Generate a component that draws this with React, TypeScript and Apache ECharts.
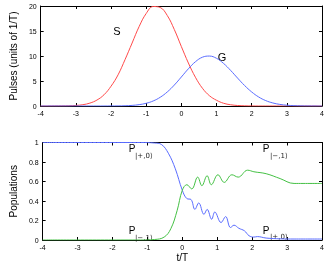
import React, { useEffect, useRef } from "react";
import * as echarts from "echarts";

// Top panel: pulse envelopes (units of 1/T)
const tTop = [
  -4, -3.8, -3.6, -3.4, -3.2, -3, -2.8, -2.6, -2.4, -2.2, -2, -1.8, -1.6, -1.4, -1.2, -1, -0.8, -0.6, -0.4, -0.2,
  0, 0.2, 0.4, 0.6, 0.8, 1, 1.2, 1.4, 1.6, 1.8, 2, 2.2, 2.4, 2.6, 2.8, 3, 3.2, 3.4, 3.6, 3.8, 4,
];
const pulseS = [
  0, 0, 0.01, 0.02, 0.04, 0.11, 0.26, 0.58, 1.19, 2.24, 3.95, 6.23, 9.3, 12.6, 15.9, 18.5, 19.9, 19.7, 18.1, 15.3,
  11.9, 8.6, 5.75, 3.55, 2.05, 1.15, 0.55, 0.25, 0.1, 0.04, 0.01, 0, 0, 0, 0, 0, 0, 0, 0, 0, 0,
];
const pulseG = [
  0, 0, 0, 0, 0, 0, 0, 0, 0, 0, 0.01, 0.02, 0.05, 0.12, 0.27, 0.54, 1.01, 1.75, 2.81, 4.19,
  5.8, 7.44, 8.85, 9.76, 9.99, 9.54, 8.52, 7.13, 5.58, 4.09, 2.81, 1.8, 1.08, 0.61, 0.32, 0.16, 0.07, 0.03, 0.01, 0, 0,
];

// Bottom panel: populations
const tPlus0 = [
  -4, -1.2, -0.8, -0.6, -0.4, -0.2, 0, 0.13, 0.25, 0.36, 0.47, 0.62, 0.71, 0.84, 0.93, 1.11, 1.24, 1.38, 1.48, 1.62,
  1.78, 1.91, 2.05, 2.15, 2.4, 2.8, 3.2, 4,
];
const popPlus0 = [
  1, 1, 0.995, 0.98, 0.89, 0.73, 0.51, 0.425, 0.415, 0.314, 0.38, 0.263, 0.314, 0.213, 0.287, 0.179, 0.24, 0.128, 0.152, 0.12,
  0.094, 0.044, 0.03, 0.035, 0.02, 0.012, 0.01, 0.01,
];
const tMinus1 = [
  -4, -1.2, -0.8, -0.52, -0.33, -0.15, 0, 0.13, 0.27, 0.44, 0.56, 0.71, 0.83, 1.02, 1.2, 1.42, 1.6, 1.87, 2.05, 2.4,
  2.8, 3.2, 4,
];
const popMinus1 = [
  0, 0, 0.005, 0.03, 0.115, 0.3, 0.51, 0.567, 0.524, 0.645, 0.557, 0.659, 0.567, 0.669, 0.591, 0.669, 0.645, 0.716, 0.7, 0.68,
  0.63, 0.58, 0.58,
];

const FONT = "'Liberation Sans', Arial, sans-serif";
const RED = "#ff4a4a";
const BLUE = "#5a6cff";
const GREEN = "#44c044";

function axisBase(extra: any) {
  return {
    type: "value",
    axisLine: { show: true, onZero: false, lineStyle: { color: "#000", width: 1 } },
    axisTick: { show: true, inside: true, length: 3, lineStyle: { color: "#000", width: 1 } },
    axisLabel: { show: true, color: "#000", fontSize: 7, fontFamily: FONT, margin: 4 },
    splitLine: { show: false },
    ...extra,
  };
}

export default function App() {
  const ref = useRef<HTMLDivElement>(null);
  useEffect(() => {
    if (!ref.current) return;
    const chart = echarts.init(ref.current, undefined, { renderer: "svg" });
    const noLabel = { show: false };
    const nameStyle = { color: "#000", fontSize: 10, fontFamily: FONT };
    const txt = (text: string, x: number, y: number, size: number, align = "center") => ({
      type: "text",
      x,
      y,
      style: { text, fill: "#000", font: `${size}px ${FONT}`, textAlign: align, textVerticalAlign: "middle" },
    });
    const sub = (text: string, x: number, y: number) => ({
      type: "text",
      x,
      y,
      style: { text, fill: "#222", font: `7px 'DejaVu Sans', sans-serif`, textAlign: "left", textVerticalAlign: "middle" },
    });
    chart.setOption({
      animation: false,
      grid: [
        { left: 23, top: 6, width: 299, height: 100 },
        { left: 23, top: 142.5, width: 299, height: 98.5 },
      ],
      xAxis: [
        axisBase({ gridIndex: 0, min: -4, max: 4, interval: 1 }),
        axisBase({ gridIndex: 0, min: -4, max: 4, interval: 1, position: "top", axisLabel: noLabel }),
        axisBase({
          gridIndex: 1, min: -4, max: 4, interval: 1,
          name: "t/T", nameLocation: "middle", nameGap: 12, nameTextStyle: nameStyle,
        }),
        axisBase({ gridIndex: 1, min: -4, max: 4, interval: 1, position: "top", axisLabel: noLabel }),
      ],
      yAxis: [
        axisBase({
          gridIndex: 0, min: 0, max: 20, interval: 5,
          name: "Pulses (units of 1/T)", nameLocation: "middle", nameGap: 15, nameTextStyle: nameStyle,
        }),
        axisBase({ gridIndex: 0, min: 0, max: 20, interval: 5, position: "right", axisLabel: noLabel }),
        axisBase({
          gridIndex: 1, min: 0, max: 1, interval: 0.2,
          name: "Populations", nameLocation: "middle", nameGap: 15, nameTextStyle: nameStyle,
        }),
        axisBase({ gridIndex: 1, min: 0, max: 1, interval: 0.2, position: "right", axisLabel: noLabel }),
      ],
      series: [
        {
          type: "line", xAxisIndex: 0, yAxisIndex: 0, symbol: "none", smooth: 0.4,
          lineStyle: { color: RED, width: 1 }, data: tTop.map((t, i) => [t, pulseS[i]]),
        },
        {
          type: "line", xAxisIndex: 0, yAxisIndex: 0, symbol: "none", smooth: 0.4,
          lineStyle: { color: BLUE, width: 1 }, data: tTop.map((t, i) => [t, pulseG[i]]),
        },
        {
          type: "line", xAxisIndex: 2, yAxisIndex: 2, symbol: "none", smooth: 0.4,
          lineStyle: { color: BLUE, width: 1 }, data: tPlus0.map((t, i) => [t, popPlus0[i]]),
        },
        {
          type: "line", xAxisIndex: 2, yAxisIndex: 2, symbol: "none", smooth: 0.4,
          lineStyle: { color: GREEN, width: 1 }, data: tMinus1.map((t, i) => [t, popMinus1[i]]),
        },
      ],
      graphic: [
        txt("S", 117, 31, 11),
        txt("G", 222, 57, 11),
        txt("P", 132, 148, 10),
        sub("|+,0⟩", 135, 155.5),
        txt("P", 132, 230, 10),
        sub("|−,1⟩", 135, 237.5),
        txt("P", 266, 148.5, 10),
        sub("|−,1⟩", 270, 156),
        txt("P", 266, 230, 10),
        sub("|+,0⟩", 270, 237),
      ],
    });
    return () => chart.dispose();
  }, []);
  return <div ref={ref} style={{ position: "fixed", left: 0, top: 0, width: 327, height: 263 }} />;
}
